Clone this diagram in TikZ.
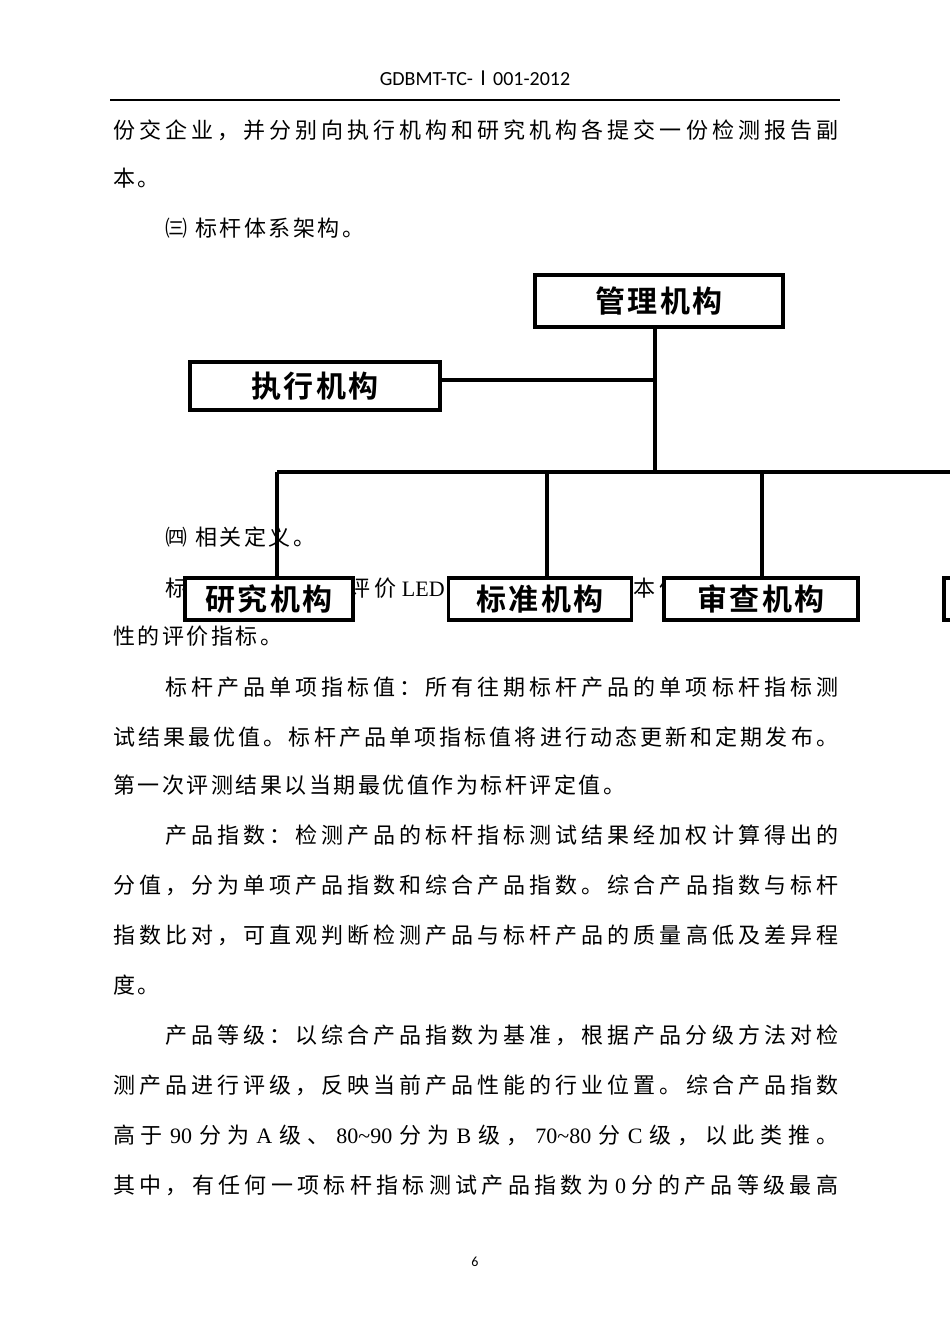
\documentclass[tikz,border=0pt]{standalone}
\usepackage{fontspec}
\setmainfont{Liberation Serif}
\newfontfamily\cjk{Noto Sans CJK SC}
\newfontfamily\cjkb{Noto Sans CJK SC Bold}
\newfontfamily\hdr{Carlito}
\XeTeXinterchartokenstate=1
\newXeTeXintercharclass\cjkcls
\count255="3000 \loop \XeTeXcharclass\count255=\cjkcls \ifnum\count255<"9FFF \advance\count255 1 \repeat
\count255="FF00 \loop \XeTeXcharclass\count255=\cjkcls \ifnum\count255<"FFEF \advance\count255 1 \repeat
\XeTeXinterchartoks\cjkcls\cjkcls{\hskip 2.5pt plus 1fil}
\newcommand\mysp{\hskip 4pt plus 1fil}
\newcommand\lt[1]{\mysp{\rmfamily #1}\mysp}
\newcommand\fl[1]{\hbox to 725pt{#1}}
\newcommand\il[1]{\hbox to 673pt{#1}}
\begin{document}
\begin{tikzpicture}[x=1pt,y=-1pt,
  orgbox/.style={draw,line width=3.5pt,fill=white,inner sep=0pt,font=\cjkb\fontsize{30}{30}\selectfont},
  ln/.style={line width=3.5pt},
  body/.style={anchor=west,inner sep=0pt,font=\cjk\fontsize{22}{22}\selectfont}]
\useasboundingbox (0,0) rectangle (950,1344);
\node[font=\hdr\fontsize{20}{20}\selectfont] (hd) at (475,78) {GDBMT-TC-{\cjk Ⅰ}001-2012};
\draw[line width=2pt] (110,100) -- (840,100);
% text
\node[body] (t1) at (113,130) {\fl{份交企业，并分别向执行机构和研究机构各提交一份检测报告副}};
\node[body] (t2) at (113,178) {本。};
\node[body] (t3) at (165,228) {㈢\hskip 8pt 标杆体系架构。};
\node[body] (t4) at (165,537) {㈣\hskip 8pt 相关定义。};
\node[body] (t5) at (165,588) {\il{标杆指标：综合评价\lt{LED}照明产品，其基本体现产品技术特}};
\node[body] (t6) at (113,636) {性的评价指标。};
\node[body] (t7) at (165,687) {\il{标杆产品单项指标值：所有往期标杆产品的单项标杆指标测}};
\node[body] (t8) at (113,737) {\fl{试结果最优值。标杆产品单项指标值将进行动态更新和定期发布。}};
\node[body] (t9) at (113,785) {第一次评测结果以当期最优值作为标杆评定值。};
\node[body] (t10) at (165,835) {\il{产品指数：检测产品的标杆指标测试结果经加权计算得出的}};
\node[body] (t11) at (113,885) {\fl{分值，分为单项产品指数和综合产品指数。综合产品指数与标杆}};
\node[body] (t12) at (113,935) {\fl{指数比对，可直观判断检测产品与标杆产品的质量高低及差异程}};
\node[body] (t13) at (113,985) {度。};
\node[body] (t14) at (165,1035) {\il{产品等级：以综合产品指数为基准，根据产品分级方法对检}};
\node[body] (t15) at (113,1085) {\fl{测产品进行评级，反映当前产品性能的行业位置。综合产品指数}};
\node[body] (t16) at (113,1135) {\fl{高于\lt{90}分为\lt{A}级、\lt{80\textasciitilde90}分为\lt{B}级，\lt{70\textasciitilde80}分\lt{C}级，以此类推。}};
\node[body] (t17) at (113,1185) {\fl{其中，有任何一项标杆指标测试产品指数为\lt{0}分的产品等级最高}};
\node[font=\hdr\fontsize{14}{14}\selectfont] (pg) at (475,1262) {6};
% chart
\node[orgbox,minimum width=248pt,minimum height=52pt] (gl) at (659,301) {管理机构};
\node[orgbox,minimum width=250pt,minimum height=48pt] (zx) at (315,386) {执行机构};
\node[orgbox,minimum width=168pt,minimum height=42pt] (yj) at (269,599) {研究机构};
\node[orgbox,minimum width=183pt,minimum height=42pt] (bz) at (540,599) {标准机构};
\node[orgbox,minimum width=194pt,minimum height=42pt] (sc) at (761,599) {审查机构};
\node[orgbox,minimum width=60pt,minimum height=42pt,anchor=west] (x4) at (942,599) {};
\coordinate (j1) at (655,380);
\coordinate (j2) at (655,472);
\coordinate (hl) at (277,472);
\coordinate (hr) at (960,472);
\draw[ln] (gl.south -| j1) -- (j2);
\draw[ln] (zx.east |- j1) -- (j1);
\draw[ln] (hl) -- (hr);
\draw[ln] (hl) -- (hl |- yj.north);
\draw[ln] (547,472) -- (547,578);
\draw[ln] (762,472) -- (762,578);
\draw[ln] (955,472) -- (955,578);
\end{tikzpicture}
\end{document}
